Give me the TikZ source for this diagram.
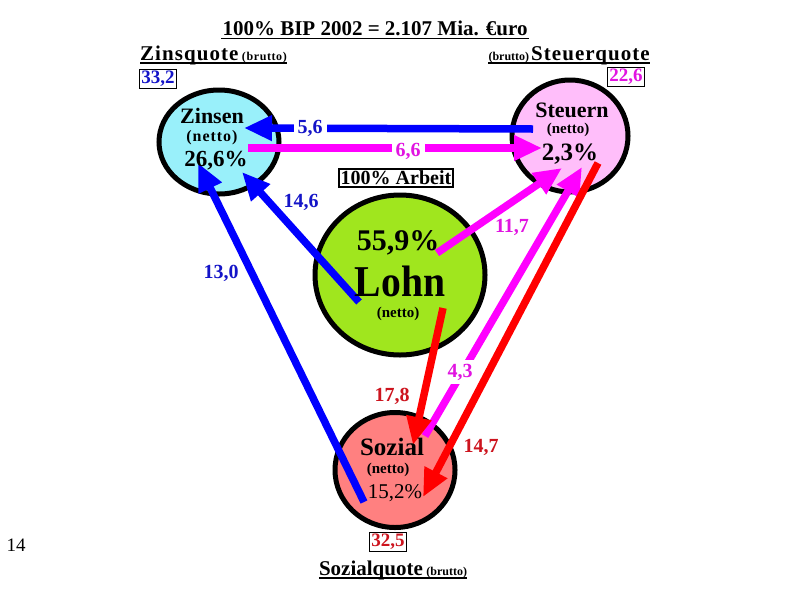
\documentclass[tikz,border=0pt]{standalone}
\usepackage{fontspec}
\setmainfont{Liberation Serif}
\usetikzlibrary{arrows.meta,shapes.geometric}
\definecolor{zinsfill}{RGB}{153,240,250}
\definecolor{steuerfill}{RGB}{255,190,250}
\definecolor{lohnfill}{RGB}{160,230,30}
\definecolor{sozfill}{RGB}{255,128,128}
\definecolor{ablue}{RGB}{0,0,255}
\definecolor{amag}{RGB}{255,0,255}
\definecolor{ared}{RGB}{255,0,0}
\definecolor{tblue}{RGB}{20,20,200}
\definecolor{tmag}{RGB}{225,20,225}
\definecolor{tred}{RGB}{205,20,30}
\begin{document}
\begin{tikzpicture}[x=1pt,y=-1pt,
  circ/.style={ellipse,draw=black,line width=5pt,inner sep=0pt},
  arr/.style={line width=7.5pt,-{Triangle[length=28pt,width=24pt]}},
  lbl/.style={font=\bfseries\fontsize{20}{20}\selectfont,inner sep=1pt},
  gaplbl/.style={lbl,fill=white,inner sep=4pt},
  boxlbl/.style={draw=black,line width=1.2pt,font=\bfseries\fontsize{19}{19}\selectfont,inner sep=1.5pt,fill=white},
  netto/.style={font=\bfseries\fontsize{15}{15}\selectfont,inner sep=0pt}]
\useasboundingbox[fill=white] (0,0) rectangle (794,595);

% circles
\node[circ,fill=zinsfill,minimum width=120pt,minimum height=104pt] (zins) at (219,142) {};
\node[circ,fill=steuerfill,minimum width=116pt,minimum height=112pt] (steuer) at (570,136) {};
\node[circ,fill=lohnfill,minimum width=170pt,minimum height=160pt] (lohn) at (400,275) {};
\node[circ,fill=sozfill,minimum width=120pt,minimum height=115pt] (soz) at (395,470) {};

% arrow anchor points
\coordinate (s56) at (533,129);  \coordinate (e56) at (244,128);
\coordinate (s66) at (248,148);  \coordinate (e66) at (542,148);
\coordinate (s146) at (359,302); \coordinate (e146) at (242,172);
\coordinate (s130) at (364,502); \coordinate (e130) at (198,163);
\coordinate (s117) at (437,253); \coordinate (e117) at (562,168);
\coordinate (s43) at (425,436);  \coordinate (e43) at (582,167);
\coordinate (s178) at (443,308); \coordinate (e178) at (413,445);
\coordinate (s147) at (598,163); \coordinate (e147) at (423,497);

% arrows
\draw[arr,ablue] (s56) -- (e56);
\draw[arr,amag] (s66) -- (e66);
\draw[arr,ablue] (s146) -- (e146);
\draw[arr,ablue] (s130) -- (e130);
\draw[arr,amag] (s117) -- (e117);
\draw[arr,amag] (s43) -- (e43);
\draw[arr,ared] (s178) -- (e178);
\draw[arr,ared] (s147) -- (e147);

% flow labels
\node[gaplbl,text=tblue] (l56) at (310,128) {5,6};
\node[gaplbl,text=tmag] (l66) at (408,151) {6,6};
\node[lbl,text=tblue] (l146) at (301,202) {14,6};
\node[lbl,text=tblue] (l130) at (221,273) {13,0};
\node[lbl,text=tmag] (l117) at (512,227) {11,7};
\node[gaplbl,text=tmag] (l43) at (460,372) {4,3};
\node[lbl,text=tred] (l178) at (392,396) {17,8};
\node[lbl,text=tred] (l147) at (481,447) {14,7};

% circle texts
\node[font=\bfseries\fontsize{22}{22}\selectfont,inner sep=0pt] (zinsA) at (212,116) {Zinsen};
\node[font=\bfseries\fontsize{16}{16}\selectfont\addfontfeatures{LetterSpace=6},inner sep=0pt] (zinsB) at (212,138) {(netto)};
\node[font=\bfseries\fontsize{23}{23}\selectfont,inner sep=0pt] (zinsC) at (216,161) {26,6\%};

\node[font=\bfseries\fontsize{22}{22}\selectfont,inner sep=0pt] (steuerA) at (572,110) {Steuern};
\node[netto] (steuerB) at (568,130) {(netto)};
\node[font=\bfseries\fontsize{25}{25}\selectfont,inner sep=0pt] (steuerC) at (570,154) {2,3\%};

\node[font=\bfseries\fontsize{30}{30}\selectfont,inner sep=0pt] (lohnA) at (398,243) {55,9\%};
\node[font=\bfseries\fontsize{44}{44}\selectfont,inner sep=0pt,anchor=base,text depth=0pt,xscale=0.9] (lohnB) at (400,296) {Lohn};
\node[netto] (lohnC) at (398,314) {(netto)};

\node[font=\bfseries\fontsize{25}{25}\selectfont,inner sep=0pt] (sozA) at (392,447) {Sozial};
\node[netto] (sozB) at (388,470) {(netto)};
\node[font=\fontsize{21}{21}\selectfont,inner sep=0pt] (sozC) at (395,493) {15,2\%};

% title and quotas
\node[font=\bfseries\fontsize{21}{21}\selectfont,inner sep=1pt] (title) at (375,28) {100\% BIP 2002 = 2.107 Mia. €uro};
\draw[line width=1.6pt] ([yshift=-2pt]title.south west) -- ([yshift=-2pt]title.south east);

\node[anchor=base west,inner sep=0pt] (zq) at (140,60) {\bfseries\fontsize{21}{21}\selectfont\addfontfeatures{LetterSpace=5}Zinsquote\,\fontsize{12}{12}\selectfont(brutto)};
\draw[line width=1.6pt] ([yshift=-3pt]zq.base west) -- ([yshift=-3pt]zq.base east);

\node[anchor=base east,inner sep=0pt] (sq) at (650,60) {\bfseries\fontsize{12}{12}\selectfont(brutto)\,\fontsize{21}{21}\selectfont\addfontfeatures{LetterSpace=5}Steuerquote};
\draw[line width=1.6pt] ([yshift=-3pt]sq.base west) -- ([yshift=-3pt]sq.base east);

\node[anchor=base,inner sep=0pt] (soq) at (393,575) {\bfseries\fontsize{21}{21}\selectfont Sozialquote\,\fontsize{12}{12}\selectfont(brutto)};
\draw[line width=1.6pt] ([yshift=-3pt]soq.base west) -- ([yshift=-3pt]soq.base east);

\node[boxlbl,text=tblue] (v332) at (158,79) {33,2};
\node[boxlbl,text=tmag] (v226) at (626,77) {22,6};
\node[boxlbl,text=tred] (v325) at (388,542) {32,5};

\node[draw=black,line width=2pt,font=\bfseries\fontsize{20}{20}\selectfont,inner sep=1.5pt,fill=white] (arbeit) at (396,178) {100\% Arbeit};

\node[font=\fontsize{19}{19}\selectfont] (page) at (16,545) {14};
\end{tikzpicture}
\end{document}
